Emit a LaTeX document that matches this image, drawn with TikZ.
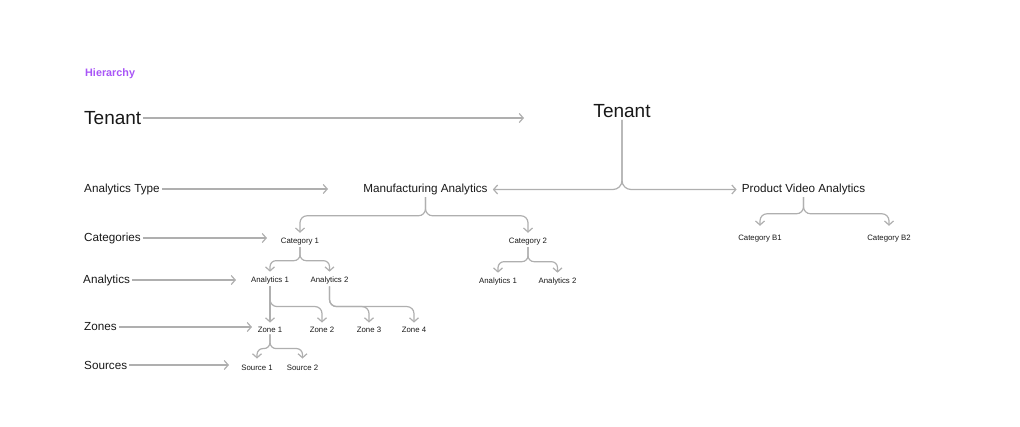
\documentclass[tikz,border=0pt]{standalone}
\usepackage{fontspec}
\setmainfont{Liberation Sans}
\usepackage{xcolor}
\usepackage{tikz}
\usetikzlibrary{calc, arrows.meta, positioning}
\definecolor{ink}{RGB}{24,24,24}
\definecolor{hierpurple}{RGB}{168,85,247}
\definecolor{linegray}{RGB}{175,175,175}
\tikzset{
    textnode/.style  = {draw=none, fill=none, rectangle, inner sep = 2pt, node distance=0em,
      text=ink, font=\fontsize{11.7}{14}\selectfont},
    smalltextnode/.style = {textnode, font=\fontsize{7.8}{9}\selectfont},
    bigtextnode/.style = {textnode, font=\fontsize{19}{22}\selectfont},
    titlenode/.style = {textnode, text=hierpurple, font=\bfseries\fontsize{10.8}{13}\selectfont},
    connect/.style = {draw=linegray, line width=1.2pt, -{Straight Barb[length=4pt,width=9pt]}},
    brace/.style = {connect, rounded corners=7pt}
}

\begin{document}
\begin{tikzpicture}[x=1pt, y=1pt]
    \useasboundingbox (0,0) rectangle (1020,-426);

    % level labels on the left
    \node [titlenode, name=Hierarchy, anchor=west] at (83,-74) {Hierarchy};
    \node [bigtextnode, name=TenantLabel, anchor=west] at (82,-118) {Tenant};
    \node [textnode, name=TypeLabel, anchor=west] at (82,-189) {Analytics Type};
    \node [textnode, name=CatLabel, anchor=west] at (82,-238) {Categories};
    \node [textnode, name=AnaLabel, anchor=west] at (81,-280) {Analytics};
    \node [textnode, name=ZoneLabel, anchor=west] at (82,-327) {Zones};
    \node [textnode, name=SrcLabel, anchor=west] at (82,-365) {Sources};

    \coordinate (TenantEnd) at (524,-117);
    \coordinate (TypeEnd) at (328,-186);
    \coordinate (CatEnd) at (267,-238);
    \coordinate (AnaEnd) at (236,-280);
    \coordinate (ZoneEnd) at (252,-327);
    \coordinate (SrcEnd) at (229,-365);

    \draw [connect] (TenantLabel.east) -- (TenantLabel.east -| TenantEnd);
    \draw [connect] (TypeLabel.east) -- (TypeLabel.east -| TypeEnd);
    \draw [connect] (CatLabel.east) -- (CatLabel.east -| CatEnd);
    \draw [connect] (AnaLabel.east) -- (AnaLabel.east -| AnaEnd);
    \draw [connect] (ZoneLabel.east) -- (ZoneLabel.east -| ZoneEnd);
    \draw [connect] (SrcLabel.east) -- (SrcLabel.east -| SrcEnd);

    % the tree
    \node [bigtextnode, name=Tenant] at (622,-111) {Tenant};
    \node [textnode, name=Manu, below of=Tenant, xshift=-196.5pt, yshift=-78.5pt] {Manufacturing Analytics};
    \node [textnode, name=Video, below of=Tenant, xshift=181.5pt, yshift=-78.5pt] {Product Video Analytics};

    \node [smalltextnode, name=Cat1, below of=Manu, xshift=-125.5pt, yshift=-52pt] {Category 1};
    \node [smalltextnode, name=Cat2, below of=Manu, xshift=102.5pt, yshift=-52pt] {Category 2};
    \node [smalltextnode, name=CatB1, below of=Video, xshift=-43.5pt, yshift=-49pt] {Category B1};
    \node [smalltextnode, name=CatB2, below of=Video, xshift=85.5pt, yshift=-49pt] {Category B2};

    \node [smalltextnode, name=Ana11, below of=Cat1, xshift=-30pt, yshift=-39pt] {Analytics 1};
    \node [smalltextnode, name=Ana12, below of=Cat1, xshift=29.5pt, yshift=-39pt] {Analytics 2};
    \node [smalltextnode, name=Ana21, below of=Cat2, xshift=-30pt, yshift=-40pt] {Analytics 1};
    \node [smalltextnode, name=Ana22, below of=Cat2, xshift=29.5pt, yshift=-40pt] {Analytics 2};

    \node [smalltextnode, name=Zone1, below of=Ana11, yshift=-49pt] {Zone 1};
    \node [smalltextnode, name=Zone2, below of=Ana11, xshift=52pt, yshift=-49pt] {Zone 2};
    \node [smalltextnode, name=Zone3, below of=Ana11, xshift=99pt, yshift=-49pt] {Zone 3};
    \node [smalltextnode, name=Zone4, below of=Ana11, xshift=144pt, yshift=-49pt] {Zone 4};

    \node [smalltextnode, name=Src1, below of=Zone1, xshift=-13pt, yshift=-38pt] {Source 1};
    \node [smalltextnode, name=Src2, below of=Zone1, xshift=32.5pt, yshift=-38pt] {Source 2};

    \draw [brace, rounded corners=9pt, shorten >=3pt] (Tenant.south) |- (Manu);
    \draw [brace, rounded corners=9pt, shorten >=3pt] (Tenant.south) |- (Video);

    \draw [brace, shorten >=3pt] (Manu.south) |- ($(Cat1.north)+(0,20)$) -- (Cat1.north);
    \draw [brace, shorten >=3pt] (Manu.south) |- ($(Cat2.north)+(0,20)$) -- (Cat2.north);
    \draw [brace, shorten >=7pt] (Video.south) |- ($(CatB1.north)+(0,19)$) -- (CatB1.north);
    \draw [brace, shorten >=7pt] (Video.south) |- ($(CatB2.north)+(0,19)$) -- (CatB2.north);

    \draw [brace, rounded corners=6pt, shorten >=3pt] (Cat1.south) |- ($(Ana11.north)+(0,14)$) -- (Ana11.north);
    \draw [brace, rounded corners=6pt, shorten >=3pt] (Cat1.south) |- ($(Ana12.north)+(0,14)$) -- (Ana12.north);
    \draw [brace, rounded corners=6pt, shorten >=3pt] (Cat2.south) |- ($(Ana21.north)+(0,14)$) -- (Ana21.north);
    \draw [brace, rounded corners=6pt, shorten >=3pt] (Cat2.south) |- ($(Ana22.north)+(0,14)$) -- (Ana22.north);

    \draw [connect, shorten >=2pt] (Ana11.south) -- (Zone1.north);
    \draw [brace, shorten >=2pt] (Ana11.south) |- ($(Zone2.north)+(0,18)$) -- (Zone2.north);
    \draw [brace, shorten >=2pt] (Ana12.south) |- ($(Zone3.north)+(0,18)$) -- (Zone3.north);
    \draw [brace, shorten >=2pt] (Ana12.south) |- ($(Zone4.north)+(0,18)$) -- (Zone4.north);

    \draw [brace, rounded corners=6pt, shorten >=4pt] (Zone1.south) |- ($(Src1.north)+(0,14)$) -- (Src1.north);
    \draw [brace, rounded corners=6pt, shorten >=4pt] (Zone1.south) |- ($(Src2.north)+(0,14)$) -- (Src2.north);
\end{tikzpicture}
\end{document}
